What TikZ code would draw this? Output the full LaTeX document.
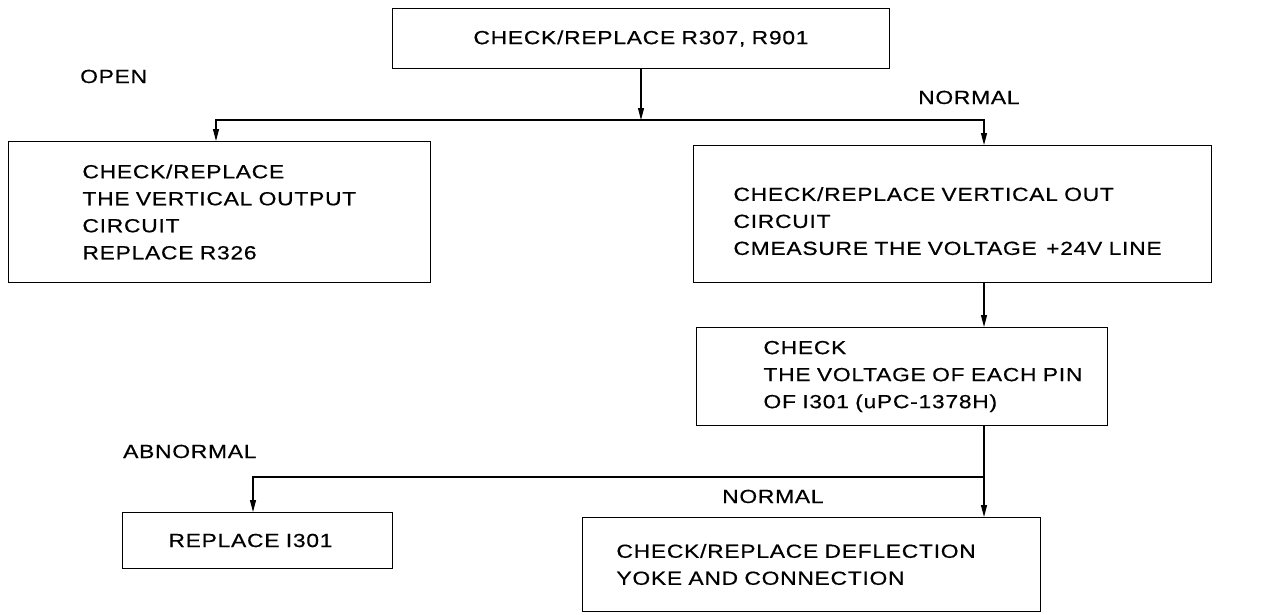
\documentclass[tikz,border=0pt]{standalone}
\usepackage{fontspec}
\setmainfont{Liberation Sans}[FakeStretch=1.2,LetterSpace=4,WordSpace=1.5,FakeBold=0.5]
\usetikzlibrary{positioning,arrows.meta}

\begin{document}
\begin{tikzpicture}[x=1pt,y=-1pt,
  every node/.style={font=\fontsize{19}{27}\selectfont},
  box/.style={draw,line width=1pt,anchor=north west,inner xsep=0pt,inner ysep=0pt,align=left},
  lpad/.style={execute at begin node={\leftskip=#1pt\relax}},
  arr/.style={line width=1.2pt,-{Triangle[length=12pt,width=6pt]}},
  lbl/.style={anchor=base west,inner sep=0pt}]
  \useasboundingbox (0,0) rectangle (1273,614);

  \node[box,align=center,text width=497pt,minimum height=60pt] (chk) at (392,8)
    {CHECK/REPLACE R307, R901};
  \node[box,lpad=74,text width=422pt,minimum height=141pt] (vout) at (8,141)
    {CHECK/REPLACE\\THE VERTICAL OUTPUT\\CIRCUIT\\REPLACE R326};
  \node[box,lpad=40,text width=518pt,minimum height=137pt] (vcirc) at (693,145)
    {\rule{0pt}{28pt}CHECK/REPLACE VERTICAL OUT\\CIRCUIT\\CMEASURE THE VOLTAGE\enspace+24V LINE};
  \node[box,lpad=67,text width=411pt,minimum height=98pt] (pins) at (696,327)
    {CHECK\\THE VOLTAGE OF EACH PIN\\OF I301 (uPC-1378H)};
  \node[box,lpad=46,text width=270pt,minimum height=56pt] (repl) at (122,512)
    {REPLACE I301};
  \node[box,lpad=34,text width=458pt,minimum height=94pt] (yoke) at (582,517)
    {CHECK/REPLACE DEFLECTION\\YOKE AND CONNECTION};

  \node[lbl] (open) at (80,83) {OPEN};
  \node[lbl] (norm1) at (918,104) {NORMAL};
  \node[lbl] (abn) at (123,458) {ABNORMAL};
  \node[lbl] (norm2) at (722,503) {NORMAL};

  \coordinate (fork1) at (chk.south |- 0,120);
  \coordinate (fork2) at (984,477);
  \draw[arr] (chk.south) -- (fork1);
  \draw[arr] (fork1) -| ([xshift=208pt]vout.north west);
  \draw[arr] (fork1) -| ([xshift=291pt]vcirc.north west);
  \draw[arr] ([xshift=291pt]vcirc.south west) -- ([xshift=288pt]pins.north west);
  \draw[arr] ([xshift=288pt]pins.south west) -- ([xshift=402pt]yoke.north west);
  \draw[arr] (fork2) -| ([xshift=131pt]repl.north west);
\end{tikzpicture}
\end{document}
